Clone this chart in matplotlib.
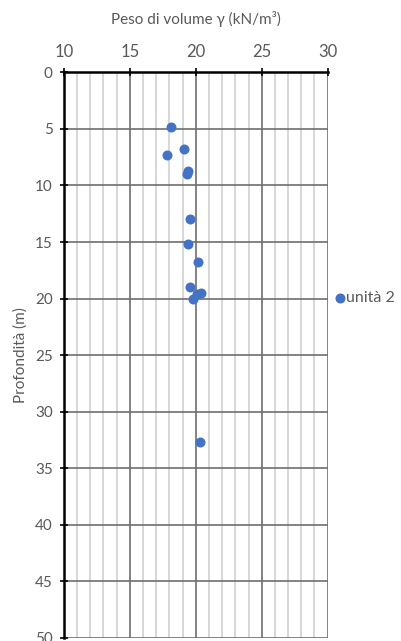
import matplotlib
matplotlib.use("Agg")
import matplotlib.pyplot as plt
from matplotlib.ticker import MultipleLocator

plt.rcParams['font.family'] = ['Lato', 'DejaVu Sans']

# Unit weight (kN/m3) versus depth (m)
gamma = [18.1, 19.1, 17.8, 19.4, 19.3, 19.6, 19.4, 20.2, 19.6, 20.4, 20.1, 19.8, 20.3]
depth = [4.8, 6.8, 7.3, 8.7, 9.0, 13.0, 15.2, 16.8, 19.0, 19.5, 19.6, 20.05, 32.7]
series_name = "unità 2"

text_col = "#595959"

fig = plt.figure(figsize=(4.02, 6.41), dpi=100)
ax = fig.add_axes([0.159, 0.0047, 0.656, 0.8825])

ax.scatter(gamma, depth, s=52, color="#4472C4", zorder=3, label=series_name,
           linewidths=0)

ax.set_xlim(10, 30)
ax.set_ylim(50, 0)
ax.xaxis.set_major_locator(MultipleLocator(5))
ax.xaxis.set_minor_locator(MultipleLocator(1))
ax.yaxis.set_major_locator(MultipleLocator(5))

ax.xaxis.tick_top()
ax.xaxis.set_label_position("top")

ax.grid(which="minor", axis="x", color="#d4d4d4", linewidth=1.3, zorder=0)
ax.grid(which="major", axis="x", color="#6e6e6e", linewidth=1.2, zorder=1)
ax.grid(which="major", axis="y", color="#6e6e6e", linewidth=1.2, zorder=1)

for side in ("right", "bottom"):
    ax.spines[side].set_visible(False)
for side in ("left", "top"):
    ax.spines[side].set_linewidth(1.8)
    ax.spines[side].set_color("black")
    ax.spines[side].set_zorder(4)

ax.tick_params(axis="x", which="major", direction="inout", length=6, width=1.2,
               colors="black", labelcolor=text_col, labelsize=12, pad=6)
ax.tick_params(axis="x", which="minor", length=0)
ax.tick_params(axis="y", which="major", direction="inout", length=6, width=1.2,
               colors="black", labelcolor=text_col, labelsize=11, pad=5)

ax.set_xlabel("Peso di volume γ (kN/m³)", fontsize=11, color=text_col, labelpad=14)
ax.set_ylabel("Profondità (m)", fontsize=11, color=text_col, labelpad=5)

leg = fig.legend(loc="center left", bbox_to_anchor=(0.818, 0.535), frameon=False,
                 fontsize=11.5, handletextpad=0.1, borderaxespad=0, markerscale=1.0,
                 handlelength=0.6)
for t in leg.get_texts():
    t.set_color(text_col)

fig.savefig("out.png", dpi=100)
